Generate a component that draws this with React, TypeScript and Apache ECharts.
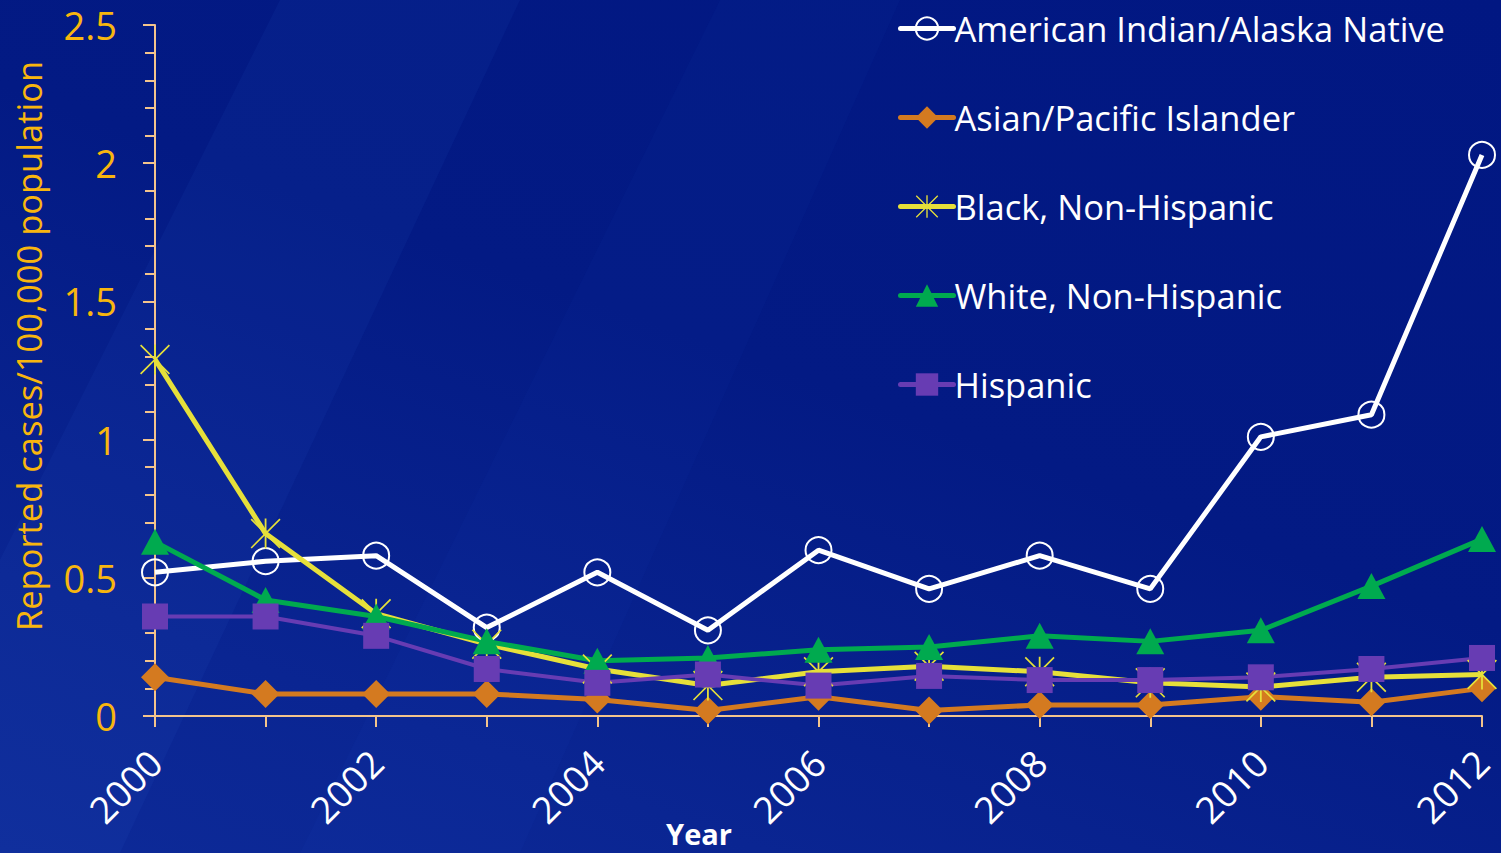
import React, { useEffect, useRef } from "react";
import * as echarts from "echarts";

const years = ["2000","2001","2002","2003","2004","2005","2006","2007","2008","2009","2010","2011","2012"];
const aian = [0.52, 0.56, 0.58, 0.32, 0.52, 0.31, 0.60, 0.46, 0.58, 0.46, 1.01, 1.09, 2.03];
const asianPI = [0.14, 0.08, 0.08, 0.08, 0.06, 0.02, 0.07, 0.02, 0.04, 0.04, 0.07, 0.05, 0.10];
const blackNH = [1.29, 0.66, 0.37, 0.26, 0.17, 0.11, 0.16, 0.18, 0.16, 0.12, 0.105, 0.14, 0.15];
const whiteNH = [0.63, 0.42, 0.36, 0.27, 0.20, 0.21, 0.24, 0.25, 0.29, 0.27, 0.31, 0.47, 0.64];
const hispanic = [0.36, 0.36, 0.29, 0.17, 0.12, 0.15, 0.11, 0.145, 0.13, 0.13, 0.14, 0.17, 0.21];
const yTicks = { min: 0, max: 2.5, interval: 0.5 };

const FONT = "'Open Sans', 'Noto Sans', sans-serif";
const GOLD = "#f8b60e";
const AXIS = "#f3c48c";

const starPath =
  "path://M47 0 L53 0 L53 100 L47 100 Z M4 0 L100 96 L96 100 L0 4 Z M96 0 L100 4 L4 100 L0 96 Z";

export default function App() {
  const ref = useRef<HTMLDivElement>(null);
  useEffect(() => {
    document.body.style.margin = "0";
    const chart = echarts.init(ref.current!, null, { renderer: "svg" });
    const mk = (name: string, data: number[], color: string, symbol: string, size: number | number[], width: number, extra: any = {}) => ({
      name,
      type: "line",
      data,
      symbol,
      symbolSize: size,
      showSymbol: true,
      lineStyle: { color, width },
      itemStyle: { color, borderWidth: 0 },
      emphasis: { disabled: true },
      ...extra,
    });
    chart.setOption({
      animation: false,
      backgroundColor: "transparent",
      grid: { left: 155, right: 19, top: 25, bottom: 137, containLabel: false },
      legend: {
        orient: "vertical",
        left: 893,
        top: 6,
        itemWidth: 53,
        itemHeight: 28,
        itemGap: 54,
        lineStyle: { width: 5, cap: "round" },
        textStyle: { color: "#ffffff", fontSize: 34.5, fontFamily: FONT, padding: [0, 0, 0, -4] },
        data: [
          "American Indian/Alaska Native",
          "Asian/Pacific Islander",
          "Black, Non-Hispanic",
          "White, Non-Hispanic",
          "Hispanic",
        ],
      },
      xAxis: {
        type: "category",
        data: years,
        boundaryGap: false,
        axisLine: { lineStyle: { color: AXIS, width: 2 } },
        axisTick: { show: true, interval: 0, length: 11, lineStyle: { color: AXIS, width: 2 } },
        axisLabel: {
          interval: 1,
          rotate: 45,
          margin: 40,
          color: "#ffffff",
          fontSize: 37,
          fontFamily: FONT,
        },
        splitLine: { show: false },
      },
      yAxis: {
        type: "value",
        min: yTicks.min,
        max: yTicks.max,
        interval: yTicks.interval,
        axisLine: { show: true, lineStyle: { color: AXIS, width: 2 } },
        axisTick: { show: true, length: 12, lineStyle: { color: AXIS, width: 2 } },
        minorTick: { show: true, splitNumber: 5, length: 10, lineStyle: { color: AXIS, width: 2 } },
        axisLabel: { color: GOLD, fontSize: 38, fontFamily: FONT, margin: 38 },
        splitLine: { show: false },
      },
      graphic: [
        {
          type: "polygon",
          z: -10,
          silent: true,
          shape: { points: [[0, 853], [0, 560], [280, 0], [520, 0], [120, 853]] },
          style: { fill: "rgba(60,110,230,0.07)" },
        },
        {
          type: "polygon",
          z: -10,
          silent: true,
          shape: { points: [[300, 853], [720, 0], [900, 0], [520, 853]] },
          style: { fill: "rgba(60,110,230,0.04)" },
        },
        {
          type: "text",
          x: 28,
          y: 346,
          rotation: Math.PI / 2,
          silent: true,
          style: {
            text: "Reported cases/100,000 population",
            fill: GOLD,
            fontSize: 34.5,
            fontFamily: FONT,
            textAlign: "center",
            textVerticalAlign: "middle",
          },
        },
        {
          type: "text",
          x: 699,
          y: 833,
          silent: true,
          style: {
            text: "Year",
            fill: "#ffffff",
            fontSize: 29,
            fontWeight: "bold",
            fontFamily: FONT,
            textAlign: "center",
            textVerticalAlign: "middle",
          },
        },
      ],
      series: [
        mk("American Indian/Alaska Native", aian, "#ffffff", "circle", 26, 5, {
          itemStyle: { color: "rgba(0,0,0,0)", borderColor: "#ffffff", borderWidth: 2 },
        }),
        mk("Asian/Pacific Islander", asianPI, "#d47a20", "diamond", 28, 5),
        mk("Black, Non-Hispanic", blackNH, "#e6e03a", starPath, 30, 5),
        mk("White, Non-Hispanic", whiteNH, "#00aa4f", "triangle", [28, 26], 5),
        mk("Hispanic", hispanic, "#673cb3", "rect", 26, 4),
      ],
    });
    return () => chart.dispose();
  }, []);
  return (
    <div
      style={{
        position: "fixed",
        left: 0,
        top: 0,
        width: 1501,
        height: 853,
        background: "linear-gradient(200deg, #011782 0%, #031a84 45%, #0a2592 80%, #0d2a98 100%)",
      }}
    >
      <div ref={ref} style={{ width: 1501, height: 853 }} />
    </div>
  );
}
